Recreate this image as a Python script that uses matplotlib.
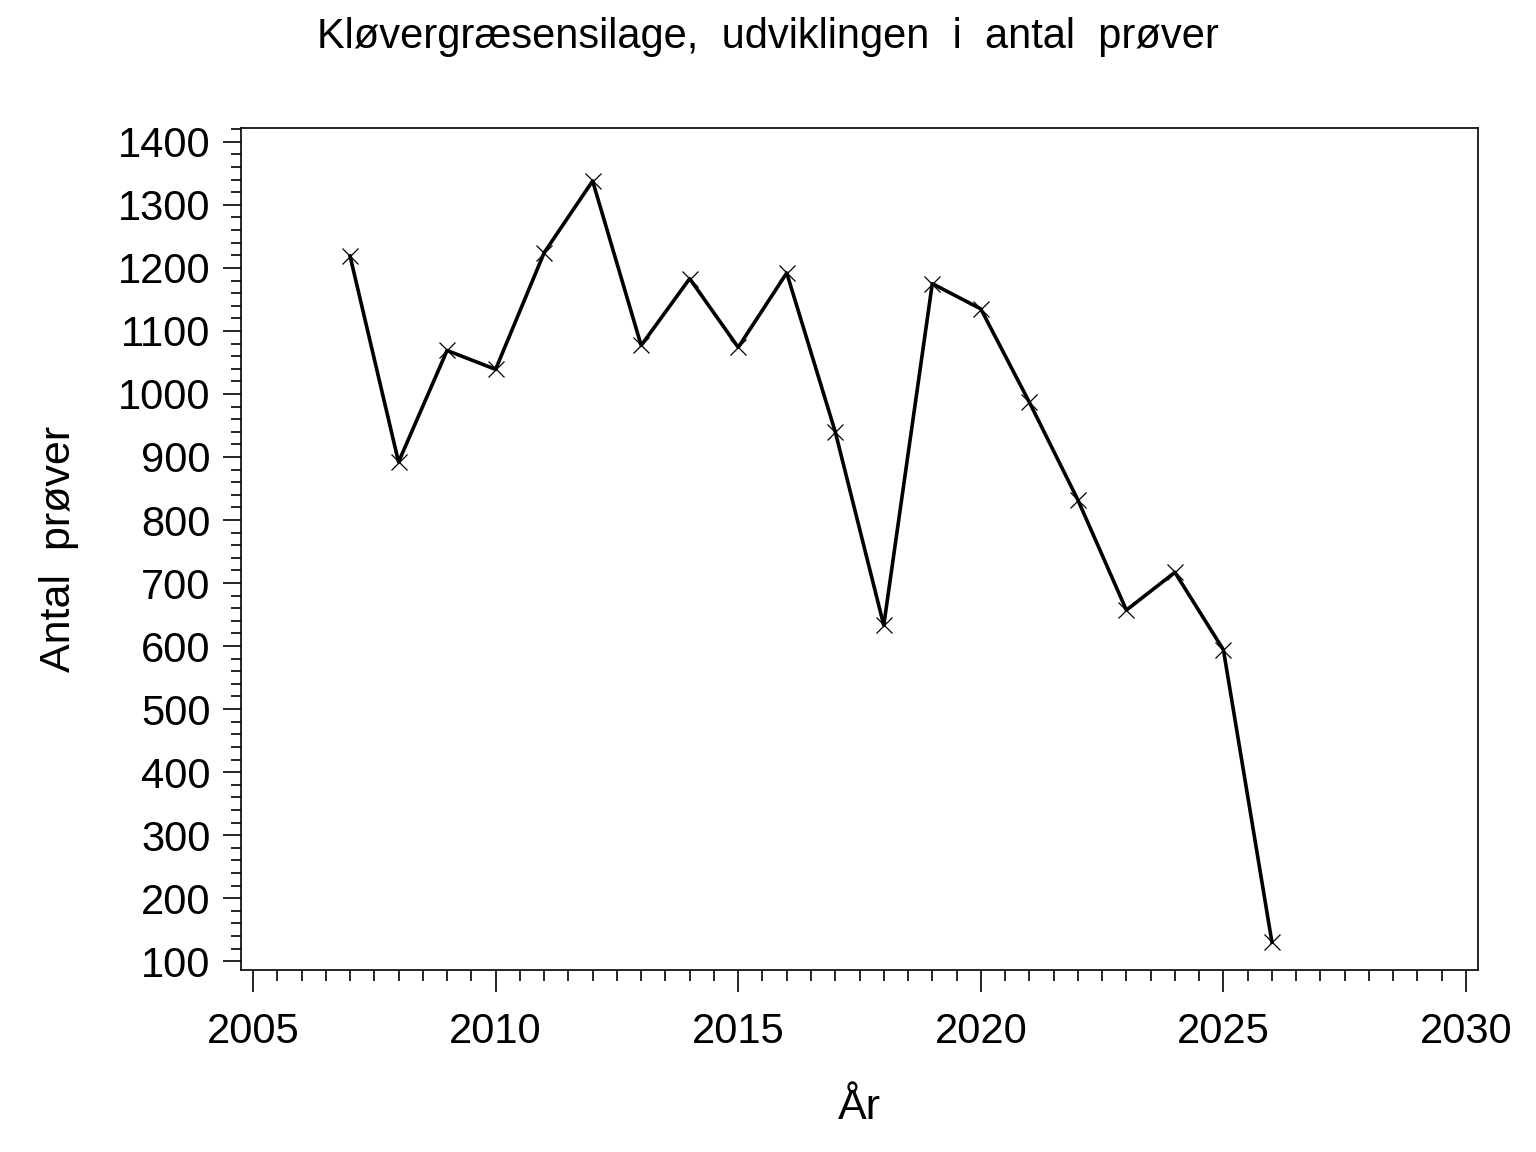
import matplotlib.pyplot as plt
from matplotlib.ticker import MultipleLocator

# Data
years = [2007, 2008, 2009, 2010, 2011, 2012, 2013, 2014, 2015, 2016,
         2017, 2018, 2019, 2020, 2021, 2022, 2023, 2024, 2025, 2026]
antal = [1219, 892, 1069, 1039, 1224, 1338, 1077, 1183, 1074, 1192,
         940, 633, 1175, 1135, 987, 832, 657, 717, 594, 130]

plt.rcParams['font.family'] = ['Liberation Sans', 'DejaVu Sans']

fig = plt.figure(figsize=(15.36, 11.52), dpi=100)
ax = fig.add_axes([241 / 1536, 1 - 970 / 1152, (1478 - 241) / 1536, (970 - 128) / 1152])

ax.plot(years, antal, color='black', linewidth=2.6, marker='x',
        markersize=12, markeredgewidth=0.9)

ax.set_xlim(2004.753, 2030.247)
ax.set_ylim(86, 1422)
ax.xaxis.set_major_locator(MultipleLocator(5))
ax.xaxis.set_minor_locator(MultipleLocator(0.5))
ax.yaxis.set_major_locator(MultipleLocator(100))
ax.yaxis.set_minor_locator(MultipleLocator(20))

ax.tick_params(axis='both', which='major', labelsize=30, width=1.2, color='black')
ax.tick_params(axis='y', which='major', length=13, pad=9)
ax.tick_params(axis='y', which='minor', length=7, width=1.2)
ax.tick_params(axis='x', which='major', length=16, pad=14)
ax.tick_params(axis='x', which='minor', length=8, width=1.2)
for s in ax.spines.values():
    s.set_linewidth(1.2)

ax.set_xlabel('År', fontsize=31, labelpad=26)
ax.set_ylabel('Antal  prøver', fontsize=31, labelpad=28)
fig.suptitle('Kløvergræsensilage,  udviklingen  i  antal  prøver', fontsize=30, y=0.985)

fig.savefig('out.png', dpi=100, facecolor='white')
